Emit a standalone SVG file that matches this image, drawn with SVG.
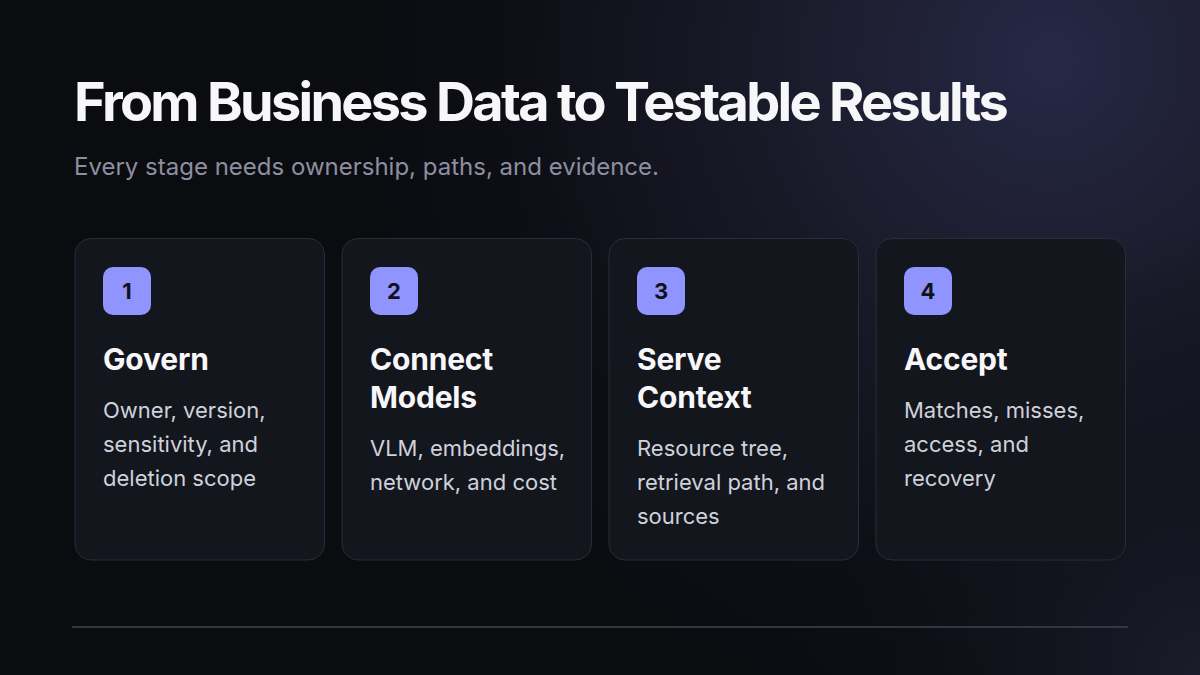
<svg xmlns="http://www.w3.org/2000/svg" width="1200" height="675" viewBox="0 0 1200 675">
<defs>
<radialGradient id="glow" cx="1050" cy="60" r="700" gradientUnits="userSpaceOnUse">
<stop offset="0" stop-color="#262846"/>
<stop offset="0.35" stop-color="#1b1c2c"/>
<stop offset="0.75" stop-color="#0e0f16"/>
<stop offset="1" stop-color="#0b0c10"/>
</radialGradient>
<radialGradient id="glow2" cx="1200" cy="675" r="450" gradientUnits="userSpaceOnUse">
<stop offset="0" stop-color="#1c1e2e" stop-opacity="0.9"/>
<stop offset="1" stop-color="#0b0c10" stop-opacity="0"/>
</radialGradient>
<style>
.card{fill:#14161e;stroke:#2a2c37;stroke-width:1}
.badge{fill:#8f94ff}
.num{font-family:Inter,"Liberation Sans",sans-serif;font-weight:700;font-size:22px;fill:#111218;text-anchor:middle}
.h{font-family:Inter,"Liberation Sans",sans-serif;font-weight:700;font-size:30px;fill:#f7f7fa;letter-spacing:-0.2px}
.b{font-family:Inter,"Liberation Sans",sans-serif;font-size:22px;fill:#cfd1db}
</style>
</defs>
<rect width="1200" height="675" fill="#0b0c10"/>
<rect width="1200" height="675" fill="url(#glow)"/>
<rect width="1200" height="675" fill="url(#glow2)"/>
<text x="74" y="121" font-family="Inter,'Liberation Sans',sans-serif" font-weight="700" font-size="54" fill="#f7f7fa" letter-spacing="-2.7">From Business Data to Testable Results</text>
<text x="74" y="175" font-family="Inter,'Liberation Sans',sans-serif" font-size="24" fill="#8c8fa0">Every stage needs ownership, paths, and evidence.</text>
<g id="card1">
<rect class="card" x="75" y="238.5" width="249.5" height="321.5" rx="16"/>
<rect class="badge" x="103" y="267" width="48" height="48" rx="10"/>
<text class="num" x="127" y="299">1</text>
<text class="h" x="103" y="370">Govern</text>
<text class="b" x="103" y="418">Owner, version,</text>
<text class="b" x="103" y="452">sensitivity, and</text>
<text class="b" x="103" y="486">deletion scope</text>
</g>
<g id="card2">
<rect class="card" x="342" y="238.5" width="249.5" height="321.5" rx="16"/>
<rect class="badge" x="370" y="267" width="48" height="48" rx="10"/>
<text class="num" x="394" y="299">2</text>
<text class="h" x="370" y="370">Connect</text>
<text class="h" x="370" y="408">Models</text>
<text class="b" x="370" y="456">VLM, embeddings,</text>
<text class="b" x="370" y="490">network, and cost</text>
</g>
<g id="card3">
<rect class="card" x="609" y="238.5" width="249.5" height="321.5" rx="16"/>
<rect class="badge" x="637" y="267" width="48" height="48" rx="10"/>
<text class="num" x="661" y="299">3</text>
<text class="h" x="637" y="370">Serve</text>
<text class="h" x="637" y="408">Context</text>
<text class="b" x="637" y="456">Resource tree,</text>
<text class="b" x="637" y="490">retrieval path, and</text>
<text class="b" x="637" y="524">sources</text>
</g>
<g id="card4">
<rect class="card" x="876" y="238.5" width="249.5" height="321.5" rx="16"/>
<rect class="badge" x="904" y="267" width="48" height="48" rx="10"/>
<text class="num" x="928" y="299">4</text>
<text class="h" x="904" y="370">Accept</text>
<text class="b" x="904" y="418">Matches, misses,</text>
<text class="b" x="904" y="452">access, and</text>
<text class="b" x="904" y="486">recovery</text>
</g>
<g id="connectors">
<line x1="72" y1="627" x2="1128" y2="627" stroke="#34353f" stroke-width="2"/>
</g>
</svg>
